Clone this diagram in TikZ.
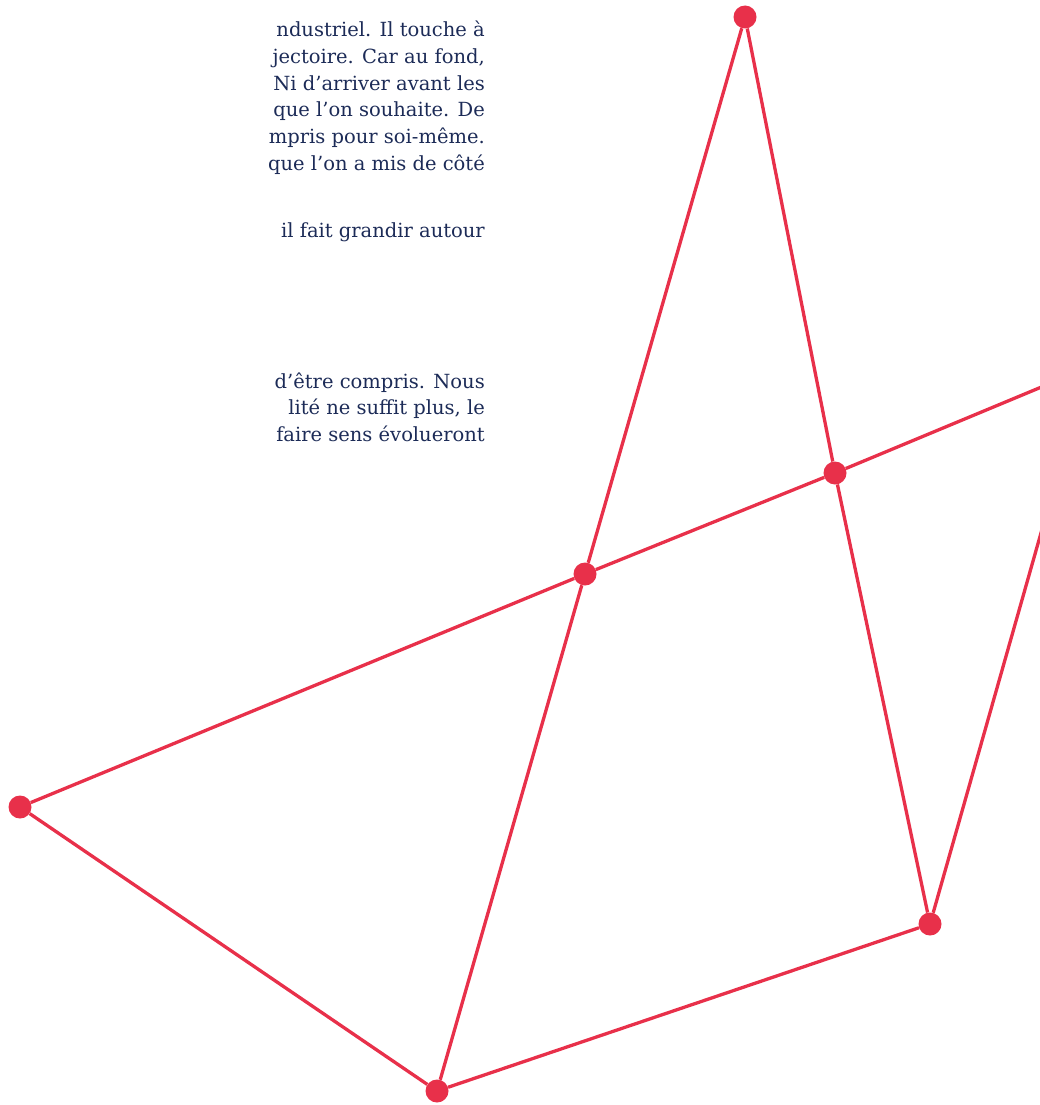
\documentclass[tikz,border=0pt]{standalone}
\usepackage{fontspec}
\setmainfont{DejaVu Serif}
\usepackage{tikz}
\definecolor{rouge}{HTML}{E8304A}
\definecolor{marine}{HTML}{1C2B57}

\begin{document}
\begin{tikzpicture}[x=1pt,y=-1pt,
    dot/.style={circle,fill=rouge,inner sep=0pt,minimum size=23pt},
    trait/.style={draw=rouge,line width=3.3pt},
    texte/.style={anchor=base east,inner sep=0pt,text=marine,font=\fontsize{19.5}{23}\selectfont}]
    \useasboundingbox (0,0) rectangle (1039,1105);

    \node[texte] (l1) at (485,37) {ndustriel. Il touche à};
    \node[texte] (l2) at (485,63.6) {jectoire. Car au fond,};
    \node[texte] (l3) at (485,90.2) {Ni d’arriver avant les};
    \node[texte] (l4) at (485,116.8) {que l’on souhaite. De};
    \node[texte] (l5) at (485,143.4) {mpris pour soi-même.};
    \node[texte] (l6) at (485,170) {que l’on a mis de côté};
    \node[texte] (l7) at (485,237) {il fait grandir autour};
    \node[texte] (l8) at (485,388) {d’être compris. Nous};
    \node[texte] (l9) at (485,414.6) {lité ne suffit plus, le};
    \node[texte] (l10) at (485,441.2) {faire sens évolueront};

    \node[dot] (haut) at (745,17) {};
    \node[dot] (milieu) at (835,473) {};
    \node[dot] (centre) at (585,574) {};
    \node[dot] (gauche) at (20,807) {};
    \node[dot] (bas) at (437,1091) {};
    \node[dot] (droite) at (930,924) {};
    \coordinate (sortieA) at (1060,379.3);
    \coordinate (sortieB) at (1060,466);

    \draw[trait] (haut) -- (centre); \draw[trait] (centre) -- (bas);
    \draw[trait] (haut) -- (milieu); \draw[trait] (milieu) -- (droite);
    \draw[trait] (gauche) -- (centre); \draw[trait] (centre) -- (milieu); \draw[trait] (milieu) -- (sortieA);
    \draw[trait] (gauche) -- (bas); \draw[trait] (bas) -- (droite); \draw[trait] (droite) -- (sortieB);
\end{tikzpicture}
\end{document}
